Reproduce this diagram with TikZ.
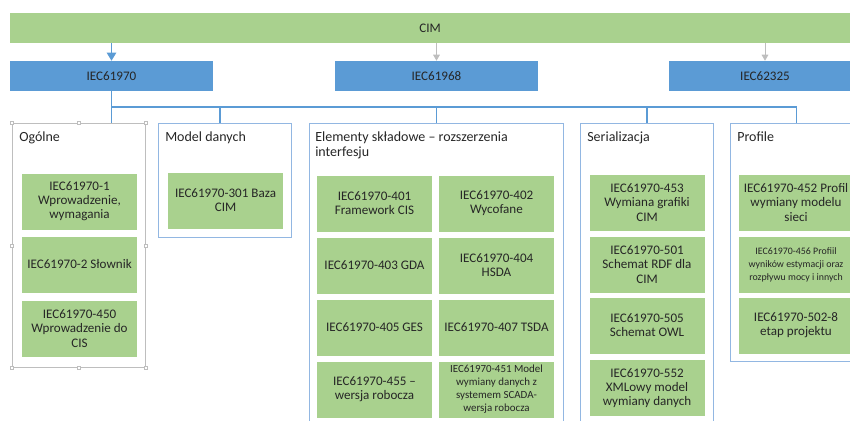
\documentclass[tikz,border=0pt]{standalone}
\usepackage{fontspec}
\setmainfont{Carlito}
\usepackage{tikz}
\usepackage{xcolor}
\usetikzlibrary{arrows.meta,positioning}
\definecolor{leaf}{RGB}{169, 209, 142}
\definecolor{stdblue}{RGB}{91, 155, 213}
\definecolor{frame}{RGB}{146, 183, 226}
\definecolor{grip}{RGB}{190, 190, 190}
\definecolor{ink}{RGB}{38, 38, 38}
\tikzstyle{arrow} = [
    line width=0.75pt,
    draw=grip,
    -{Triangle[width=5pt,length=4.5pt]}
]
\tikzstyle{link} = [
    line width=1.1pt,
    draw=stdblue
]
\tikzstyle{bar} = [
    rectangle,
    fill=leaf,
    minimum height=22.5pt,
    inner sep=0pt,
    text=ink,
    font=\fontsize{9.8}{10.6}\selectfont
]
\tikzstyle{std} = [
    bar,
    fill=stdblue,
    minimum width=152.25pt
]
\tikzstyle{group} = [
    rectangle,
    anchor=north west,
    draw=frame,
    line width=0.6pt,
    inner sep=0pt
]
\tikzstyle{grouptitle} = [
    anchor=base west,
    inner sep=0pt,
    text width=190pt,
    align=flush left,
    text=ink,
    font=\fontsize{10.5}{11.3}\selectfont
]
\tikzstyle{part} = [
    rectangle,
    fill=leaf,
    minimum width=86.25pt,
    minimum height=42pt,
    inner sep=0pt,
    align=center,
    text=ink,
    font=\fontsize{9.8}{10.6}\selectfont
]
\tikzstyle{smallpart} = [
    part,
    font=\fontsize{8.2}{9.8}\selectfont
]
\tikzstyle{handle} = [
    rectangle,
    draw=grip,
    fill=white,
    line width=0.4pt,
    minimum size=2.4pt,
    inner sep=0pt
]

\begin{document}
\begin{tikzpicture}[x=0.75pt,y=-0.75pt]
        \useasboundingbox (0,0) rectangle (850,421);
        \clip (0,0) rectangle (850,421);

        % Top bar and standards
        \node[bar, minimum width=630pt] (cim) at (430,28) {CIM};
        \node[std] (iec70) at (111.5,76) {IEC61970};
        \node[std] (iec68) at (436.5,76) {IEC61968};
        \node[std, minimum width=144pt] (iec25) at (765,76) {IEC62325};

        \draw[arrow, draw=stdblue, line width=1.1pt, -{Triangle[width=7pt,length=6pt]}] (iec70.north |- cim.south) -- (iec70.north);
        \draw[arrow] (iec68.north |- cim.south) -- (iec68.north);
        \draw[arrow] (iec25.north |- cim.south) -- (iec25.north);

        % Groups
        \node[group, minimum width=99.75pt, minimum height=183pt] (ogolne) at (12,123) {};
        \node[group, minimum width=99.75pt, minimum height=85.5pt] (model) at (158,123) {};
        \node[group, minimum width=190.5pt, minimum height=232.5pt] (elem) at (309,123) {};
        \node[group, minimum width=99.75pt, minimum height=232.5pt] (serial) at (580,123) {};
        \node[group, minimum width=99pt, minimum height=178.5pt] (profile) at (730,123) {};

        \node[grouptitle] (tOgolne) at (19,141) {Ogólne};
        \node[grouptitle] (tModel) at (165,141) {Model danych};
        \node[grouptitle] (tElem) at (315,141) {Elementy składowe – rozszerzenia\\interfesju};
        \node[grouptitle] (tSerial) at (587,141) {Serializacja};
        \node[grouptitle] (tProfile) at (737,141) {Profile};

        % Connectors
        \coordinate (bus) at (111.5,107);
        \coordinate (modelTop) at (220,123);
        \draw[link] (iec70.south) -- (iec70.south |- ogolne.north);
        \draw[link] (bus) -| (profile.north);
        \draw[link] (bus -| modelTop) -- (modelTop);
        \draw[link] (bus -| elem.north) -- (elem.north);
        \draw[link] (bus -| serial.north) -- (serial.north);

        % Selection frame
        \draw[draw=grip, line width=0.5pt] (ogolne.north west) rectangle (ogolne.south east);
        \foreach \a in {north west,north,north east,west,east,south west,south,south east}
            \node[handle] at (ogolne.\a) {};

        % Ogolne
        \node[part] (p1) at (79.5,201.5) {IEC61970-1\\Wprowadzenie,\\wymagania};
        \node[part] (p2) at (79.5,264.5) {IEC61970-2 Słownik};
        \node[part] (p450) at (79.5,328.5) {IEC61970-450\\Wprowadzenie do\\CIS};

        % Model danych
        \node[part] (p301) at (225.5,200.5) {IEC61970-301 Baza\\CIM};

        % Elementy skladowe
        \node[part] (p401) at (374.5,203.5) {IEC61970-401\\Framework CIS};
        \node[part] (p402) at (496.5,203.5) {IEC61970-402\\Wycofane};
        \node[part] (p403) at (374.5,265.5) {IEC61970-403 GDA};
        \node[part] (p404) at (496.5,265.5) {IEC61970-404\\HSDA};
        \node[part] (p405) at (374.5,327.5) {IEC61970-405 GES};
        \node[part] (p407) at (496.5,327.5) {IEC61970-407 TSDA};
        \node[part] (p455) at (374.5,389.5) {IEC61970-455 –\\wersja robocza};
        \node[smallpart] (p451) at (496.5,389.5) {IEC61970-451 Model\\wymiany danych z\\systemem SCADA-\\wersja robocza};

        % Serializacja
        \node[part] (p453) at (647,202.5) {IEC61970-453\\Wymiana grafiki\\CIM};
        \node[part] (p501) at (647,264.5) {IEC61970-501\\Schemat RDF dla\\CIM};
        \node[part] (p505) at (647,325.5) {IEC61970-505\\Schemat OWL};
        \node[part] (p552) at (647,388) {IEC61970-552\\XMLowy model\\wymiany danych};

        % Profile
        \node[part] (p452) at (796,202.5) {IEC61970-452 Profil\\wymiany modelu\\sieci};
        \node[smallpart, font=\fontsize{7.4}{9.8}\selectfont] (p456) at (796,264.5) {IEC61970-456 Profiil\\wyników estymacji oraz\\rozpływu mocy i innych};
        \node[part] (p502) at (796,325.5) {IEC61970-502-8\\etap projektu};
    \end{tikzpicture}
\end{document}
